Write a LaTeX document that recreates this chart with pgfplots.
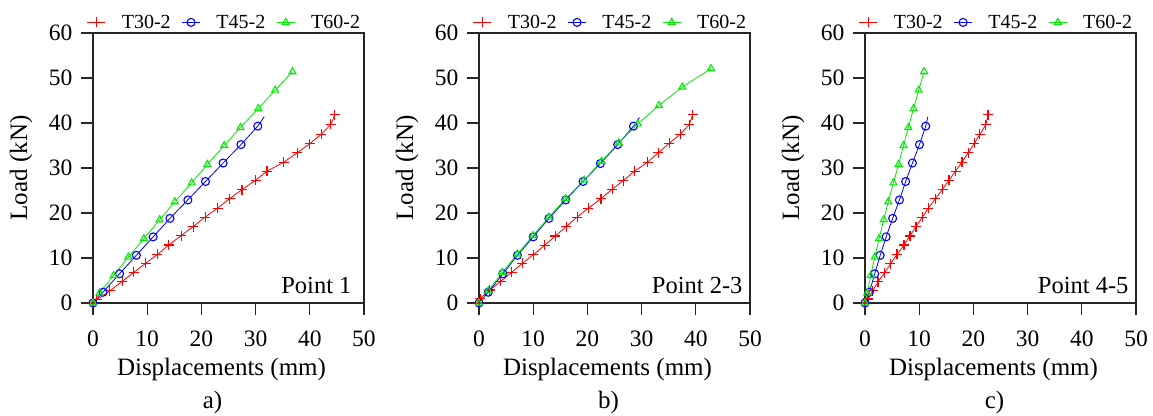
\documentclass[border=0pt]{standalone}
\usepackage{fontspec}
\setmainfont{Liberation Serif}
\usepackage{pgfplots}
\pgfplotsset{compat=1.18}
\definecolor{cR}{RGB}{255,0,0}
\definecolor{cB}{RGB}{0,0,255}
\definecolor{cG}{RGB}{0,235,0}
\newcommand{\tkf}{\fontsize{23.5}{25}\selectfont}
\newcommand{\lgf}{\fontsize{20}{22}\selectfont}
\pgfplotsset{
  panel/.style={
    scale only axis, width=271pt, height=270pt,
    xmin=0, xmax=50, ymin=0, ymax=60,
    xtick={0,10,20,30,40,50}, ytick={0,10,20,30,40,50,60},
    xticklabels={{\tkf 0},{\tkf 10},{\tkf 20},{\tkf 30},{\tkf 40},{\tkf 50}},
    yticklabels={{\tkf 0},{\tkf 10},{\tkf 20},{\tkf 30},{\tkf 40},{\tkf 50},{\tkf 60}},
    tick align=outside, tick pos=left,
    major tick length=12pt,
    axis line style={line width=1.1pt, black!85},
    every tick/.style={line width=1.1pt, black!85},
    xticklabel style={yshift=-12pt},
    yticklabel style={xshift=-5pt},
    xlabel={Displacements (mm)},
    ylabel={Load (kN)},
    xlabel style={font=\fontsize{25}{28}\selectfont, at={(rel axis cs:0.5,0)}, anchor=base, yshift=-72pt, xshift=-7pt},
    ylabel style={font=\fontsize{25}{28}\selectfont, at={(rel axis cs:0,0.5)}, anchor=center, yshift=72pt},
    clip=false,
    legend columns=3,
    legend image code/.code={\draw[#1] (0pt,0pt) -- (9pt,0pt) -- (18pt,0pt); \path[#1, mark repeat=3, mark phase=2] plot coordinates {(0pt,0pt) (9pt,0pt) (18pt,0pt)};},
    legend style={draw=none, fill=none, at={(0.5,1)}, anchor=south, yshift=1pt, xshift=-4pt,
      inner sep=0pt,
      font=\lgf,
      /tikz/every odd column/.append style={column sep=14pt},
      /tikz/every even column/.append style={column sep=9pt}},
    legend cell align=left,
  },
  s30/.style={cR, line width=0.8pt, mark=+, mark size=5pt, mark options={line width=1.1pt}},
  s45/.style={cB, line width=0.8pt, mark=o, mark size=4pt, mark options={line width=1.1pt}},
  s60/.style={cG, line width=0.8pt, mark=triangle, mark size=4pt, mark options={line width=1.1pt}},
}
\begin{document}
\begin{tikzpicture}
\path[use as bounding box] (0pt,0pt) rectangle (1153pt,-415pt);
% ---------------- a)
\begin{axis}[panel, at={(93pt,-303pt)}, anchor=south west]
\addplot[s30] coordinates {(0,0) (0.7,0.7) (3.1,2.7) (5.4,4.8) (7.5,6.8) (9.7,8.8) (11.9,10.8) (14.0,12.9) (16.3,15.0) (18.5,17.0) (20.7,19.1) (23.0,21.1) (25.2,23.2) (27.5,25.2) (30.0,27.3) (32.1,29.3) (35.2,31.3) (37.7,33.4) (40.0,35.4) (42.1,37.5) (43.9,39.7) (44.6,41.8)};
\addlegendentry{\lgf T30-2}
\addplot[s45] coordinates {(0,0) (1.85,2.4) (4.9,6.5) (8.0,10.6) (11.1,14.7) (14.2,18.8) (17.5,22.9) (20.75,27.0) (24.0,31.1) (27.3,35.2) (30.4,39.3)};
\addlegendentry{\lgf T45-2}
\addplot[s60] coordinates {(0,0) (1.2,2.2) (3.8,6.1) (6.5,10.2) (9.4,14.3) (12.3,18.5) (15.1,22.5) (18.2,26.7) (21.1,30.8) (24.2,35.0) (27.2,39.0) (30.5,43.2) (33.6,47.3) (36.8,51.4)};
\addlegendentry{\lgf T60-2}
\addplot[cB, line width=0.8pt, forget plot] coordinates {(30.4,39.3) (31.6,41.4)};
\node[anchor=base east, font=\fontsize{24.5}{28}\selectfont] at (rel axis cs:1,0) [xshift=-9pt, yshift=10pt] {Point 1};
\node[anchor=base, font=\fontsize{25}{28}\selectfont] at (rel axis cs:0.5,0) [xshift=-16pt, yshift=-105pt] {a)};
\end{axis}
% ---------------- b)
\begin{axis}[panel, at={(479pt,-303pt)}, anchor=south west]
\addplot[s30] coordinates {(0,0) (0.2,1.0) (2.0,2.9) (4.0,4.8) (6.0,6.8) (8.0,8.8) (10.0,10.7) (12.1,12.8) (14.1,14.9) (16.1,17.0) (18.1,19.1) (20.2,21.1) (22.5,23.2) (24.6,25.3) (26.6,27.2) (28.7,29.3) (31.1,31.3) (33.1,33.4) (35.1,35.5) (37.1,37.5) (38.8,39.6) (39.4,41.8)};
\addlegendentry{\lgf T30-2}
\addplot[s45] coordinates {(0,0) (1.7,2.4) (4.4,6.5) (7.1,10.6) (10.0,14.7) (12.9,18.8) (16.0,22.9) (19.2,27.0) (22.4,31.0) (25.6,35.2) (28.5,39.3)};
\addlegendentry{\lgf T45-2}
\addplot[s60] coordinates {(0,0) (1.7,2.7) (4.3,6.8) (7.1,10.9) (10.0,15.0) (12.9,19.1) (16.0,23.2) (19.4,27.3) (22.6,31.5) (25.8,35.6) (29.3,39.8) (33.2,43.9) (37.5,48.0) (42.8,52.1)};
\addlegendentry{\lgf T60-2}
\addplot[cB, line width=0.8pt, forget plot] coordinates {(28.5,39.3) (29.6,41.2)};
\node[anchor=base east, font=\fontsize{24.5}{28}\selectfont] at (rel axis cs:1,0) [xshift=-4pt, yshift=10pt] {Point 2-3};
\node[anchor=base, font=\fontsize{25}{28}\selectfont] at (rel axis cs:0.5,0) [xshift=-6pt, yshift=-105pt] {b)};
\end{axis}
% ---------------- c)
\begin{axis}[panel, at={(865pt,-303pt)}, anchor=south west]
\addplot[s30] coordinates {(0,0) (0.55,0.9) (1.4,2.7) (2.4,4.7) (3.6,6.7) (4.7,8.7) (5.9,10.8) (7.2,12.9) (8.3,14.9) (9.4,17.0) (10.6,19.1) (11.7,21.1) (13.0,23.2) (14.3,25.3) (15.5,27.3) (16.7,29.3) (17.9,31.3) (19.05,33.4) (20.2,35.5) (21.2,37.5) (22.3,39.6) (22.7,41.8)};
\addlegendentry{\lgf T30-2}
\addplot[s45] coordinates {(0,0) (0.8,2.4) (1.8,6.5) (2.8,10.6) (3.9,14.7) (5.1,18.8) (6.35,22.9) (7.5,27.0) (8.75,31.1) (10.05,35.2) (11.2,39.3)};
\addlegendentry{\lgf T45-2}
\addplot[s60] coordinates {(0,0) (0.4,2.2) (1.05,6.1) (1.8,10.2) (2.6,14.3) (3.45,18.5) (4.3,22.5) (5.25,26.7) (6.2,30.8) (7.1,35.0) (8.0,39.0) (8.95,43.2) (9.9,47.3) (10.9,51.4)};
\addlegendentry{\lgf T60-2}
\addplot[cB, line width=0.8pt, forget plot] coordinates {(11.2,39.3) (11.6,41.4)};
\node[anchor=base east, font=\fontsize{24.5}{28}\selectfont] at (rel axis cs:1,0) [xshift=-4pt, yshift=10pt] {Point 4-5};
\node[anchor=base, font=\fontsize{25}{28}\selectfont] at (rel axis cs:0.5,0) [xshift=-6pt, yshift=-105pt] {c)};
\end{axis}
\end{tikzpicture}
\end{document}
